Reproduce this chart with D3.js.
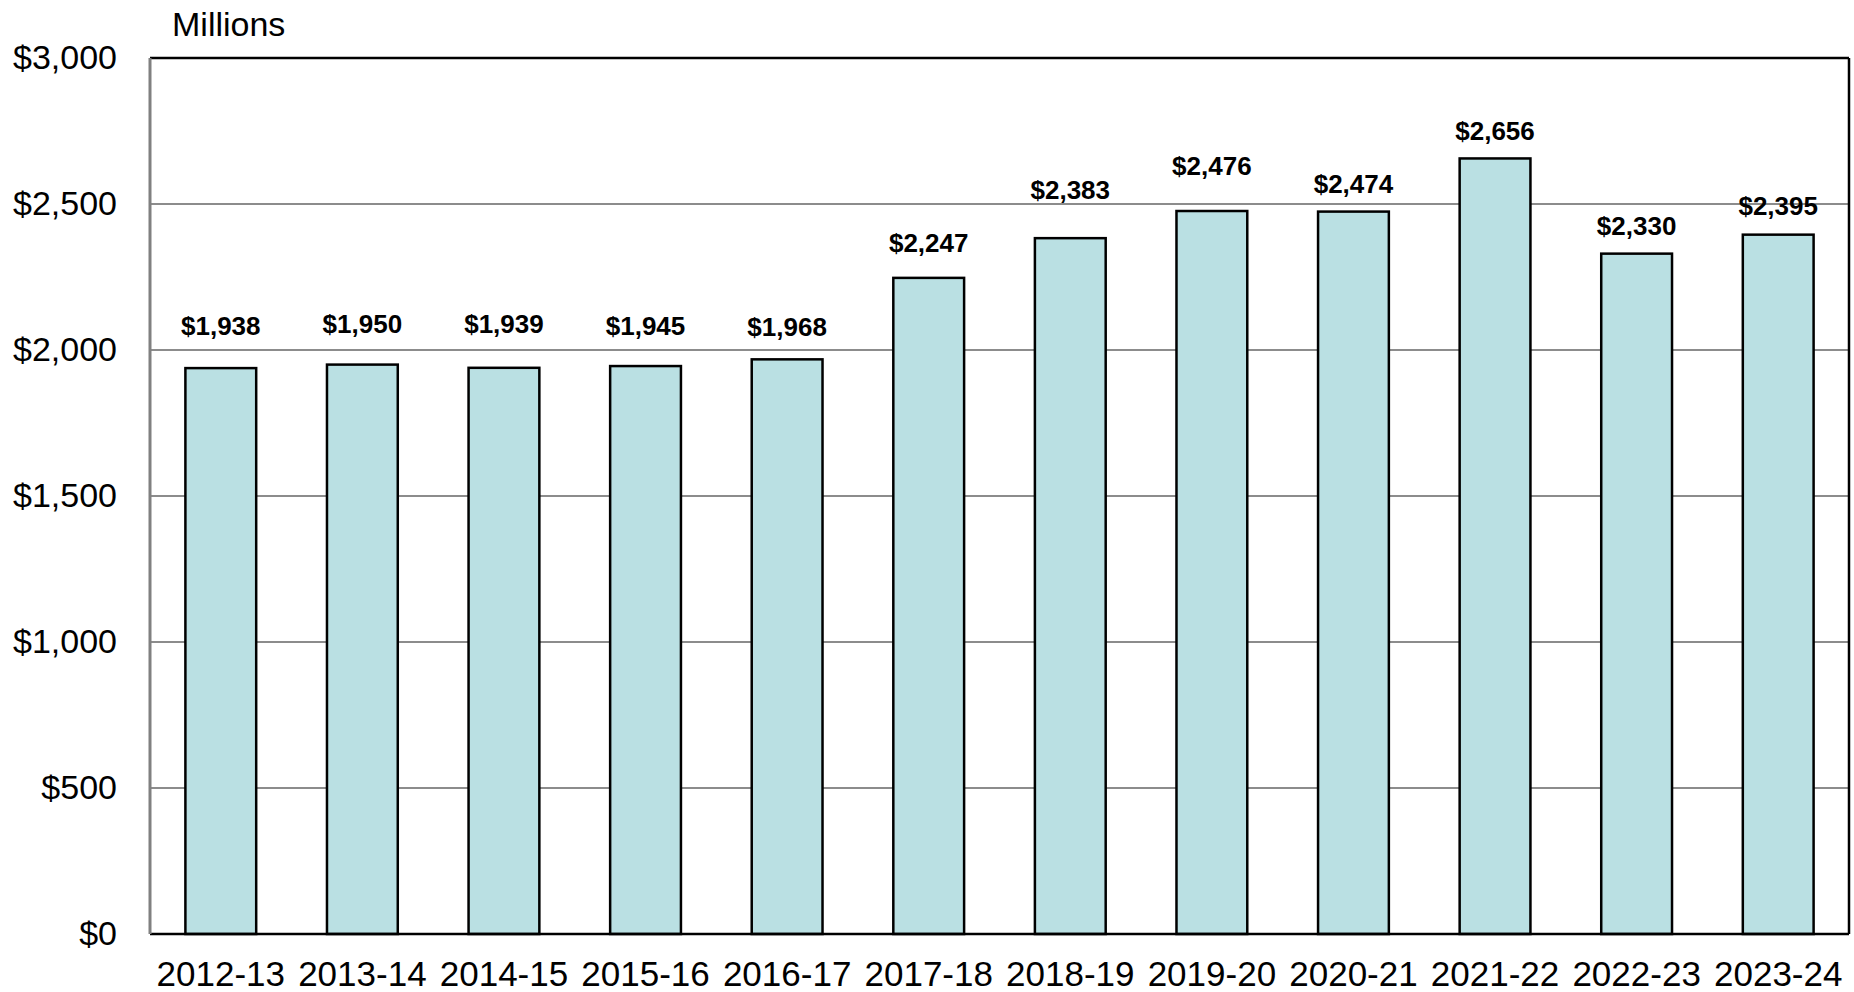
<!DOCTYPE html>
<html>
<head>
<meta charset="utf-8" />
<title>Millions by year</title>
<script src="https://d3js.org/d3.v7.min.js"></script>
<style>
  body { margin: 0; background: #fff; }
  text { font-family: "Liberation Sans", Arial, sans-serif; fill: #000; }
</style>
</head>
<body>
<div id="chart"></div>
<script>
// chart data
var years = ["2012-13", "2013-14", "2014-15", "2015-16", "2016-17", "2017-18",
             "2018-19", "2019-20", "2020-21", "2021-22", "2022-23", "2023-24"];
var amounts = [1938, 1950, 1939, 1945, 1968, 2247, 2383, 2476, 2474, 2656, 2330, 2395];
var yTicks = [0, 500, 1000, 1500, 2000, 2500, 3000];

// gap (px) between each bar top and its value label, as placed in the original
var labelGaps = [33, 32, 35, 31, 23, 26, 39, 36, 19, 18, 19, 20];

var width = 1854, height = 992;
var margin = {top: 58, right: 5, bottom: 58, left: 150};
var plotW = width - margin.left - margin.right,
    plotH = height - margin.top - margin.bottom;

var svg = d3.select("#chart")
  .append("svg")
  .attr("width", width)
  .attr("height", height);

var g = svg.append("g")
  .attr("transform", "translate(" + margin.left + "," + margin.top + ")");

var data = years.map(function(d, i) { return {year: d, value: amounts[i], gap: labelGaps[i]}; });

var x = d3.scaleBand()
  .domain(years)
  .range([0, plotW])
  .paddingInner(0.5)
  .paddingOuter(0.25);

var y = d3.scaleLinear()
  .domain([0, 3000])
  .range([plotH, 0]);

var money = d3.format("$,");

// gridlines
g.append("g")
  .selectAll("line")
  .data(yTicks.filter(function(t) { return t > 0 && t < 3000; }))
  .enter()
  .append("line")
  .attr("x1", 0)
  .attr("x2", plotW)
  .attr("y1", function(d) { return y(d); })
  .attr("y2", function(d) { return y(d); })
  .attr("stroke", "#8c8c8c")
  .attr("stroke-width", 2);

// frame: top, right, bottom black, left gray
g.append("line").attr("x1", 0).attr("x2", plotW).attr("y1", 0).attr("y2", 0)
  .attr("stroke", "#000").attr("stroke-width", 2.5);
g.append("line").attr("x1", plotW).attr("x2", plotW).attr("y1", 0).attr("y2", plotH)
  .attr("stroke", "#000").attr("stroke-width", 2.5);

// bars
g.append("g")
  .selectAll("rect")
  .data(data)
  .enter()
  .append("rect")
  .attr("x", function(d) { return x(d.year); })
  .attr("width", x.bandwidth())
  .attr("y", function(d) { return y(d.value); })
  .attr("height", function(d) { return plotH - y(d.value); })
  .attr("fill", "#bae0e3")
  .attr("stroke", "#000")
  .attr("stroke-width", 2.5);

g.append("line").attr("x1", 0).attr("x2", plotW).attr("y1", plotH).attr("y2", plotH)
  .attr("stroke", "#000").attr("stroke-width", 2.5);
g.append("line").attr("x1", 0).attr("x2", 0).attr("y1", 0).attr("y2", plotH)
  .attr("stroke", "#808080").attr("stroke-width", 3);

// value labels
g.append("g")
  .selectAll("text")
  .data(data)
  .enter()
  .append("text")
  .attr("x", function(d) { return x(d.year) + x.bandwidth() / 2; })
  .attr("y", function(d) { return y(d.value) - d.gap; })
  .attr("text-anchor", "middle")
  .style("font-size", "26px")
  .style("font-weight", "bold")
  .text(function(d) { return money(d.value); });

// y axis labels
var yAxis = g.append("g")
  .call(d3.axisLeft(y).tickValues(yTicks).tickFormat(money).tickSize(0).tickPadding(33));
yAxis.select(".domain").remove();
yAxis.selectAll("text")
  .style("font-size", "34px")
  .attr("font-family", null);

// x axis labels
var xAxis = g.append("g")
  .attr("transform", "translate(0," + plotH + ")")
  .call(d3.axisBottom(x).tickSize(0).tickPadding(27));
xAxis.select(".domain").remove();
xAxis.selectAll("text")
  .style("font-size", "35px")
  .attr("font-family", null);

// units label
svg.append("text")
  .attr("x", 172)
  .attr("y", 36)
  .style("font-size", "34px")
  .text("Millions");
</script>
</body>
</html>
